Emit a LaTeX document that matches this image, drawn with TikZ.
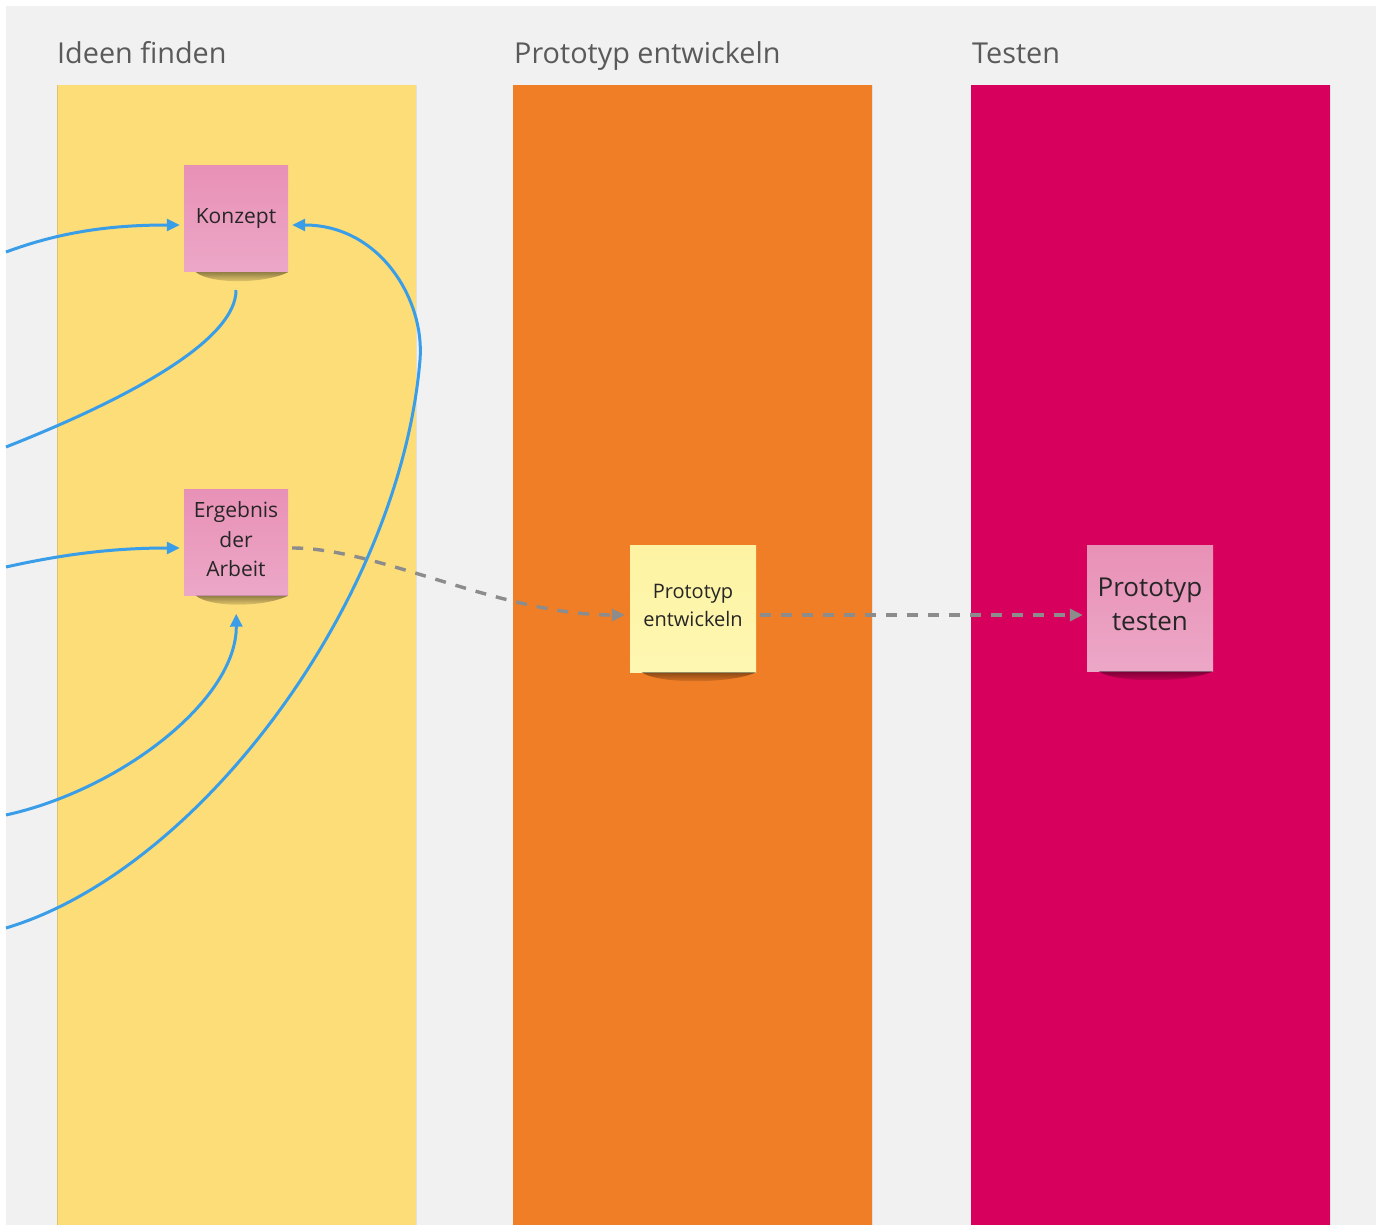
\documentclass[tikz,border=0pt]{standalone}
\usepackage{fontspec}
\setmainfont{Open Sans}
\usetikzlibrary{arrows.meta,fadings}

\definecolor{boardbg}{HTML}{F1F1F1}
\definecolor{laneyellow}{HTML}{FDDD77}
\definecolor{laneorange}{HTML}{F07E26}
\definecolor{lanemagenta}{HTML}{D8005D}
\definecolor{titlegray}{HTML}{5A5A5A}
\definecolor{pinktop}{HTML}{E891B6}
\definecolor{pinkbot}{HTML}{ECA7C7}
\definecolor{paletop}{HTML}{FDF3A2}
\definecolor{palebot}{HTML}{FEF7B2}
\definecolor{flowblue}{HTML}{3A9DE8}
\definecolor{flowgray}{HTML}{8C8C8C}
\definecolor{notetext}{HTML}{262626}

\tikzset{
  lanetitle/.style={anchor=base west, inner sep=0pt, text=titlegray,
    font=\fontsize{28.8}{32}\selectfont},
  sticky/.style={inner sep=0pt, align=center, text=notetext,
    minimum width=104pt, minimum height=106pt},
  pinknote/.style={sticky, top color=pinktop, bottom color=pinkbot},
  palenote/.style={sticky, top color=paletop, bottom color=palebot},
  flowline/.style={draw=flowblue, line width=3pt},
  flow/.style={flowline, -{Triangle[length=13pt,width=12pt]}},
  handoff/.style={draw=flowgray, line width=3.4pt, dash pattern=on 11pt off 10pt,
    -{Triangle[length=13pt,width=12pt]}},
  noteshadow/.style={fill=black, fill opacity=0.42, path fading=south},
}

\begin{document}
\begin{tikzpicture}[x=1pt,y=-1pt]
  \useasboundingbox (0,0) rectangle (1382,1225);
  \fill[white] (0,0) rectangle (1382,1225);
  \fill[boardbg] (6,6) rectangle (1376,1225);

  % swim lanes
  \fill[laneyellow] (57,85) rectangle (416,1225);
  \fill[laneorange] (513,85) rectangle (872,1225);
  \fill[lanemagenta] (971,85) rectangle (1330,1225);
  \draw[line width=1.5pt, color=laneyellow!85!black!90] (57.7,85) -- (57.7,1225);
  \draw[line width=1pt, color=black!12] (416.5,85) -- (416.5,1225);
  \draw[line width=1pt, color=black!12] (872.5,85) -- (872.5,1225);
  \draw[line width=1pt, color=black!12] (1330.5,85) -- (1330.5,1225);

  \node[lanetitle] (t1) at (57,64) {Ideen finden};
  \node[lanetitle] (t2) at (514,64) {Prototyp entwickeln};
  \node[lanetitle] (t3) at (972,64) {Testen};

  % sticky notes
  \node[pinknote] (konzept) at (236,219) {};
  \node[text=notetext, font=\fontsize{21}{29}\selectfont, inner sep=0pt] (konzepttext)
    at ([yshift=0.5pt]konzept.center) {Konzept};
  \node[pinknote] (ergebnis) at (236,542.5) {};
  \node[text=notetext, align=center, font=\fontsize{21}{29.5}\selectfont, inner sep=0pt]
    (ergebnistext) at ([yshift=3pt]ergebnis.center) {Ergebnis\\der\\Arbeit};
  \node[palenote, minimum width=126pt, minimum height=127pt] (prote) at (693,608.5) {};
  \node[text=notetext, align=center, font=\fontsize{20}{28}\selectfont, inner sep=0pt]
    (protetext) at ([yshift=3pt]prote.center) {Prototyp\\entwickeln};
  \node[pinknote, minimum width=126pt, minimum height=126pt] (prott) at (1150,608) {};
  \node[text=notetext, align=center, font=\fontsize{26}{34}\selectfont, inner sep=0pt]
    (protttext) at ([yshift=4pt]prott.center) {Prototyp\\testen};

  % soft shadows under the notes
  \foreach \n in {konzept,ergebnis,prote,prott}{
    \fill[noteshadow] ([xshift=12pt]\n.south west) .. controls +(15,12) and +(-25,12) .. (\n.south east) -- cycle;
  }

  % loose ends of the connectors at the left border
  \coordinate (in1) at (6,252);
  \coordinate (out2) at (6,447);
  \coordinate (in3) at (6,567);
  \coordinate (in4) at (6,815);
  \coordinate (in5) at (6,928);

  % blue connectors
  \draw[flow, shorten >=4pt] (in1) .. controls (60,232) and (110,225) .. ([yshift=-6pt]konzept.west);
  \draw[flowline, shorten <=18pt]
    (konzept.south) .. controls (236,335) and (150,390) .. (out2);
  \draw[flow, shorten >=4pt] (in3) .. controls (60,555) and (110,548) .. ([yshift=-5.5pt]ergebnis.west);
  \draw[flow, shorten >=18pt] (in4) .. controls (120,790) and (237,700) .. (ergebnis.south);
  \draw[flow, shorten >=4pt] (in5) .. controls (200,870) and (400,600) .. (420,360)
    .. controls (425,300) and (380,225) .. ([yshift=-6pt]konzept.east);

  % gray hand-offs
  \draw[handoff, shorten <=4pt, shorten >=5pt] ([yshift=-5.5pt]ergebnis.east)
    .. controls (380,548) and (500,615) .. ([yshift=-6.5pt]prote.west);
  \draw[handoff, shorten <=4pt, shorten >=4pt] ([yshift=-6.5pt]prote.east) -- ([yshift=-7pt]prott.west);
\end{tikzpicture}
\end{document}
